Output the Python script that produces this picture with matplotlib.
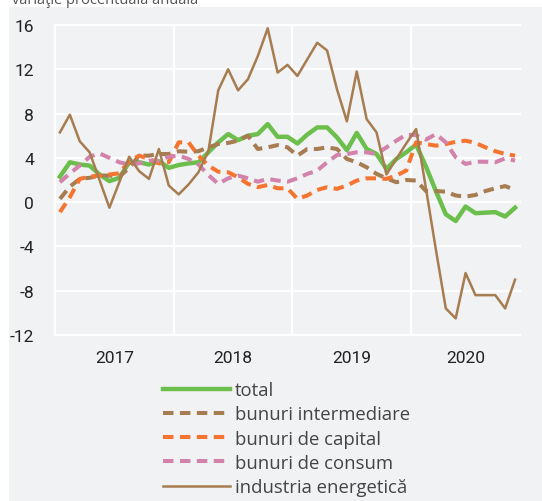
import numpy as np
import matplotlib
matplotlib.use('Agg')
import matplotlib.pyplot as plt
from matplotlib.patches import Rectangle

plt.rcParams['axes.unicode_minus'] = False

# lunar, ian 2017 - nov 2020
years = ['2017', '2018', '2019', '2020']
months_per_year = [12, 12, 12, 11]

total = [2.3, 3.6, 3.4, 3.3, 2.5, 1.9, 2.2, 3.6, 3.6, 3.4, 3.7, 3.1,
         3.35, 3.5, 3.6, 4.5, 5.4, 6.15, 5.6, 6.0, 6.15, 7.05, 5.9, 5.9,
         5.3, 6.1, 6.75, 6.75, 5.85, 4.7, 6.25, 4.8, 4.35, 3.0, 3.9, 4.5,
         5.2, 3.2, 1.0, -1.1, -1.7, -0.4, -1.0, -0.95, -0.9, -1.3, -0.5]
intermediare = [0.3, 1.4, 2.1, 2.2, 2.4, 2.4, 2.3, 3.1, 4.2, 4.2, 4.35, 4.35,
                4.6, 4.55, 4.6, 4.95, 5.25, 5.35, 5.55, 6.0, 4.8, 4.95, 5.15, 4.95,
                4.2, 4.8, 4.8, 4.95, 4.8, 3.9, 3.6, 3.15, 2.55, 2.15, 1.8, 2.0,
                1.95, 1.0, 1.0, 0.95, 0.6, 0.5, 0.65, 1.0, 1.25, 1.45, 1.1]
capital = [-0.9, 0.45, 2.1, 2.3, 2.4, 2.5, 2.6, 3.7, 4.2, 3.9, 3.5, 3.6,
           5.4, 5.4, 4.2, 3.3, 2.75, 2.7, 2.25, 1.65, 1.35, 1.55, 1.25, 1.25,
           0.3, 0.6, 1.1, 1.35, 1.2, 1.5, 1.95, 2.15, 2.15, 2.1, 2.4, 2.85,
           5.4, 5.25, 5.1, 5.25, 5.45, 5.55, 5.35, 4.95, 4.6, 4.35, 4.2]
consum = [1.8, 2.6, 3.3, 4.1, 4.4, 4.0, 3.6, 3.4, 3.5, 3.75, 3.75, 4.1,
          4.2, 3.9, 3.4, 2.45, 1.65, 2.15, 2.4, 2.15, 1.85, 2.1, 1.95, 1.85,
          2.15, 2.55, 2.85, 3.6, 4.25, 4.35, 4.5, 4.5, 4.35, 4.95, 5.55, 6.1,
          6.05, 5.65, 6.15, 5.4, 4.05, 3.45, 3.65, 3.65, 3.6, 3.95, 3.75]
energetica = [6.3, 7.9, 5.5, 4.5, 2.0, -0.5, 1.8, 4.1, 2.8, 2.1, 4.8, 1.5,
              0.7, 1.6, 2.7, 4.6, 10.1, 12.0, 10.1, 11.1, 13.2, 15.7, 11.7, 12.4,
              11.4, 12.9, 14.4, 13.7, 10.2, 7.3, 11.8, 7.5, 6.3, 2.5, 3.9, 5.3,
              6.6, 1.2, -4.3, -9.6, -10.5, -6.4, -8.4, -8.4, -8.4, -9.6, -7.0]

verde = '#6cbf4c'
maro = '#a67c50'
portocaliu = '#f5742f'
roz = '#d282ab'
fundal = '#f1f2f4'

W, H = 542, 502
fig = plt.figure(figsize=(W / 100, H / 100), dpi=100)
fig.patches.append(Rectangle((9 / W, 0), 1, 1 - 8 / H, transform=fig.transFigure,
                             facecolor=fundal, edgecolor='none', zorder=-5))
fig.text(12 / W, 1 - 4 / H, 'variaţie procentuală anuală', fontsize=10.5,
         color='#555555', va='baseline', family=['Open Sans', 'DejaVu Sans'])

ax = fig.add_axes([55 / W, (H - 336) / H, (520 - 55) / W, (336 - 26) / H])
ax.set_facecolor('none')

x = np.arange(len(total))
dash = (2.6, 1.6)
ax.plot(x, total, color=verde, lw=3.2, label='total', zorder=3)
ax.plot(x, intermediare, color=maro, lw=2.9, dashes=dash, label='bunuri intermediare', zorder=3)
ax.plot(x, capital, color=portocaliu, lw=2.9, dashes=dash, label='bunuri de capital', zorder=3)
ax.plot(x, consum, color=roz, lw=2.9, dashes=dash, label='bunuri de consum', zorder=3)
ax.plot(x, energetica, color=maro, lw=1.8, label='industria energetică', zorder=3)

n = len(total)
ax.set_xlim(-0.5, n - 0.5)
ax.set_ylim(-12, 16)
for v in range(-12, 17, 4):
    ax.axhline(v, color='white', lw=1.6, clip_on=False, zorder=1)
bounds = np.cumsum([0] + months_per_year) - 0.5
for b in bounds[:-1]:
    ax.axvline(b, color='white', lw=1.6, clip_on=False, zorder=1)

centers = (bounds[:-1] + bounds[1:]) / 2
ax.set_xticks(centers)
ax.set_xticklabels(years)
ax.set_yticks(range(-12, 17, 4))
ax.tick_params(length=0, labelsize=12.5, labelcolor='#222222')
ax.tick_params(axis='x', pad=11)
ax.tick_params(axis='y', pad=15)
for t in ax.get_xticklabels() + ax.get_yticklabels():
    t.set_family(['Roboto', 'DejaVu Sans'])
for s in ax.spines.values():
    s.set_visible(False)

fig.legend(loc='upper left', bbox_to_anchor=(163 / W, 1 - 382 / H), frameon=False,
           handlelength=3.6, handletextpad=0.28, labelspacing=0.34,
           borderaxespad=0, borderpad=0, labelcolor='#444444',
           prop={'family': ['Open Sans', 'DejaVu Sans'], 'size': 13.3})

fig.savefig('out.png', dpi=100, facecolor='white')
